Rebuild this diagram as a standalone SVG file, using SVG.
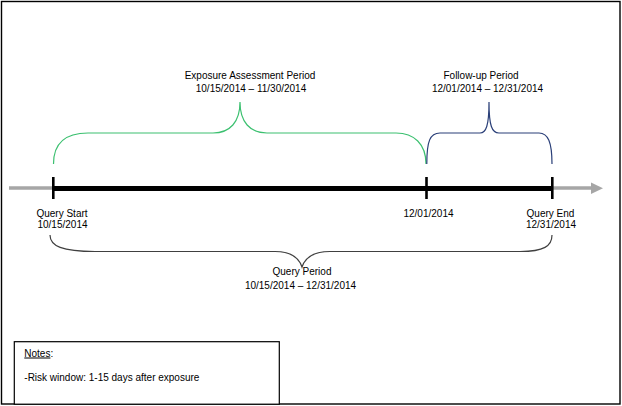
<svg xmlns="http://www.w3.org/2000/svg" width="622" height="406" viewBox="0 0 622 406">
<style>
text{font-family:"Liberation Sans",Arial,sans-serif;font-size:10px;fill:#000}
.mid{text-anchor:middle}
.brace{fill:none;stroke-width:1.2}
.tick{stroke:#000;stroke-width:2.6}
</style>
<rect x="0" y="0" width="622" height="406" fill="#fff"/>
<rect id="frame" x="1.5" y="1.5" width="618.5" height="402.5" fill="none" stroke="#000" stroke-width="1.4"/>
<g id="connectors">
  <line x1="9" y1="188" x2="53" y2="188" stroke="#a6a6a6" stroke-width="3.5"/>
  <line x1="552" y1="188" x2="593" y2="188" stroke="#a6a6a6" stroke-width="3.5"/>
  <polygon points="591,182.5 603,188.3 591,194" fill="#a6a6a6"/>
  <line x1="53" y1="188.5" x2="552" y2="188.5" stroke="#000" stroke-width="5"/>
  <line class="tick" x1="53.3" y1="177" x2="53.3" y2="199"/>
  <line class="tick" x1="426.5" y1="177" x2="426.5" y2="199"/>
  <line class="tick" x1="552.3" y1="177" x2="552.3" y2="199"/>
</g>
<g id="exposure-brace">
  <path class="brace" stroke="#3cc070" d="M53.5,164 C53.5,142 66,133 88,133 L213,133 C230,133 240,122 240,102 C240,122 250,133 267,133 L396,133 C414,133 426,144 426,164"/>
  <text class="mid" x="250" y="79">Exposure Assessment Period</text>
  <text class="mid" x="251" y="91.5">10/15/2014 – 11/30/2014</text>
</g>
<g id="followup-brace">
  <path class="brace" stroke="#2a3f78" d="M426.8,164 C426.8,141 430,133 440,133 L480,133 C486,133 489,126 489,102 C489,126 492,133 499,133 L539,133 C548,133 552,142 552,164"/>
  <text class="mid" x="481" y="79">Follow-up Period</text>
  <text class="mid" x="487.5" y="91.5">12/01/2014 – 12/31/2014</text>
</g>
<g id="query-start">
  <text class="mid" x="62" y="216.5">Query Start</text>
  <text class="mid" x="62.5" y="227.5">10/15/2014</text>
</g>
<g id="mid-date">
  <text class="mid" x="428.5" y="216.5">12/01/2014</text>
</g>
<g id="query-end">
  <text class="mid" x="550.5" y="216.5">Query End</text>
  <text class="mid" x="551" y="227.5">12/31/2014</text>
</g>
<g id="query-brace">
  <path class="brace" stroke="#404040" d="M50,235 C50,246 62,251.5 95,251.5 L275,251.5 C292,251.5 299,258 302,267 C305,258 312,251.5 330,251.5 L520,251.5 C544,251.5 552,246 552,235"/>
  <text class="mid" x="302" y="274.5">Query Period</text>
  <text class="mid" x="300.5" y="289">10/15/2014 – 12/31/2014</text>
</g>
<g id="notes">
  <rect x="14.3" y="341.7" width="265" height="62.5" fill="#fff" stroke="#000" stroke-width="1.2"/>
  <text x="24.3" y="356.5"><tspan text-decoration="underline">Notes</tspan>:</text>
  <text x="24.3" y="381">-Risk window: 1-15 days after exposure</text>
</g>
</svg>
